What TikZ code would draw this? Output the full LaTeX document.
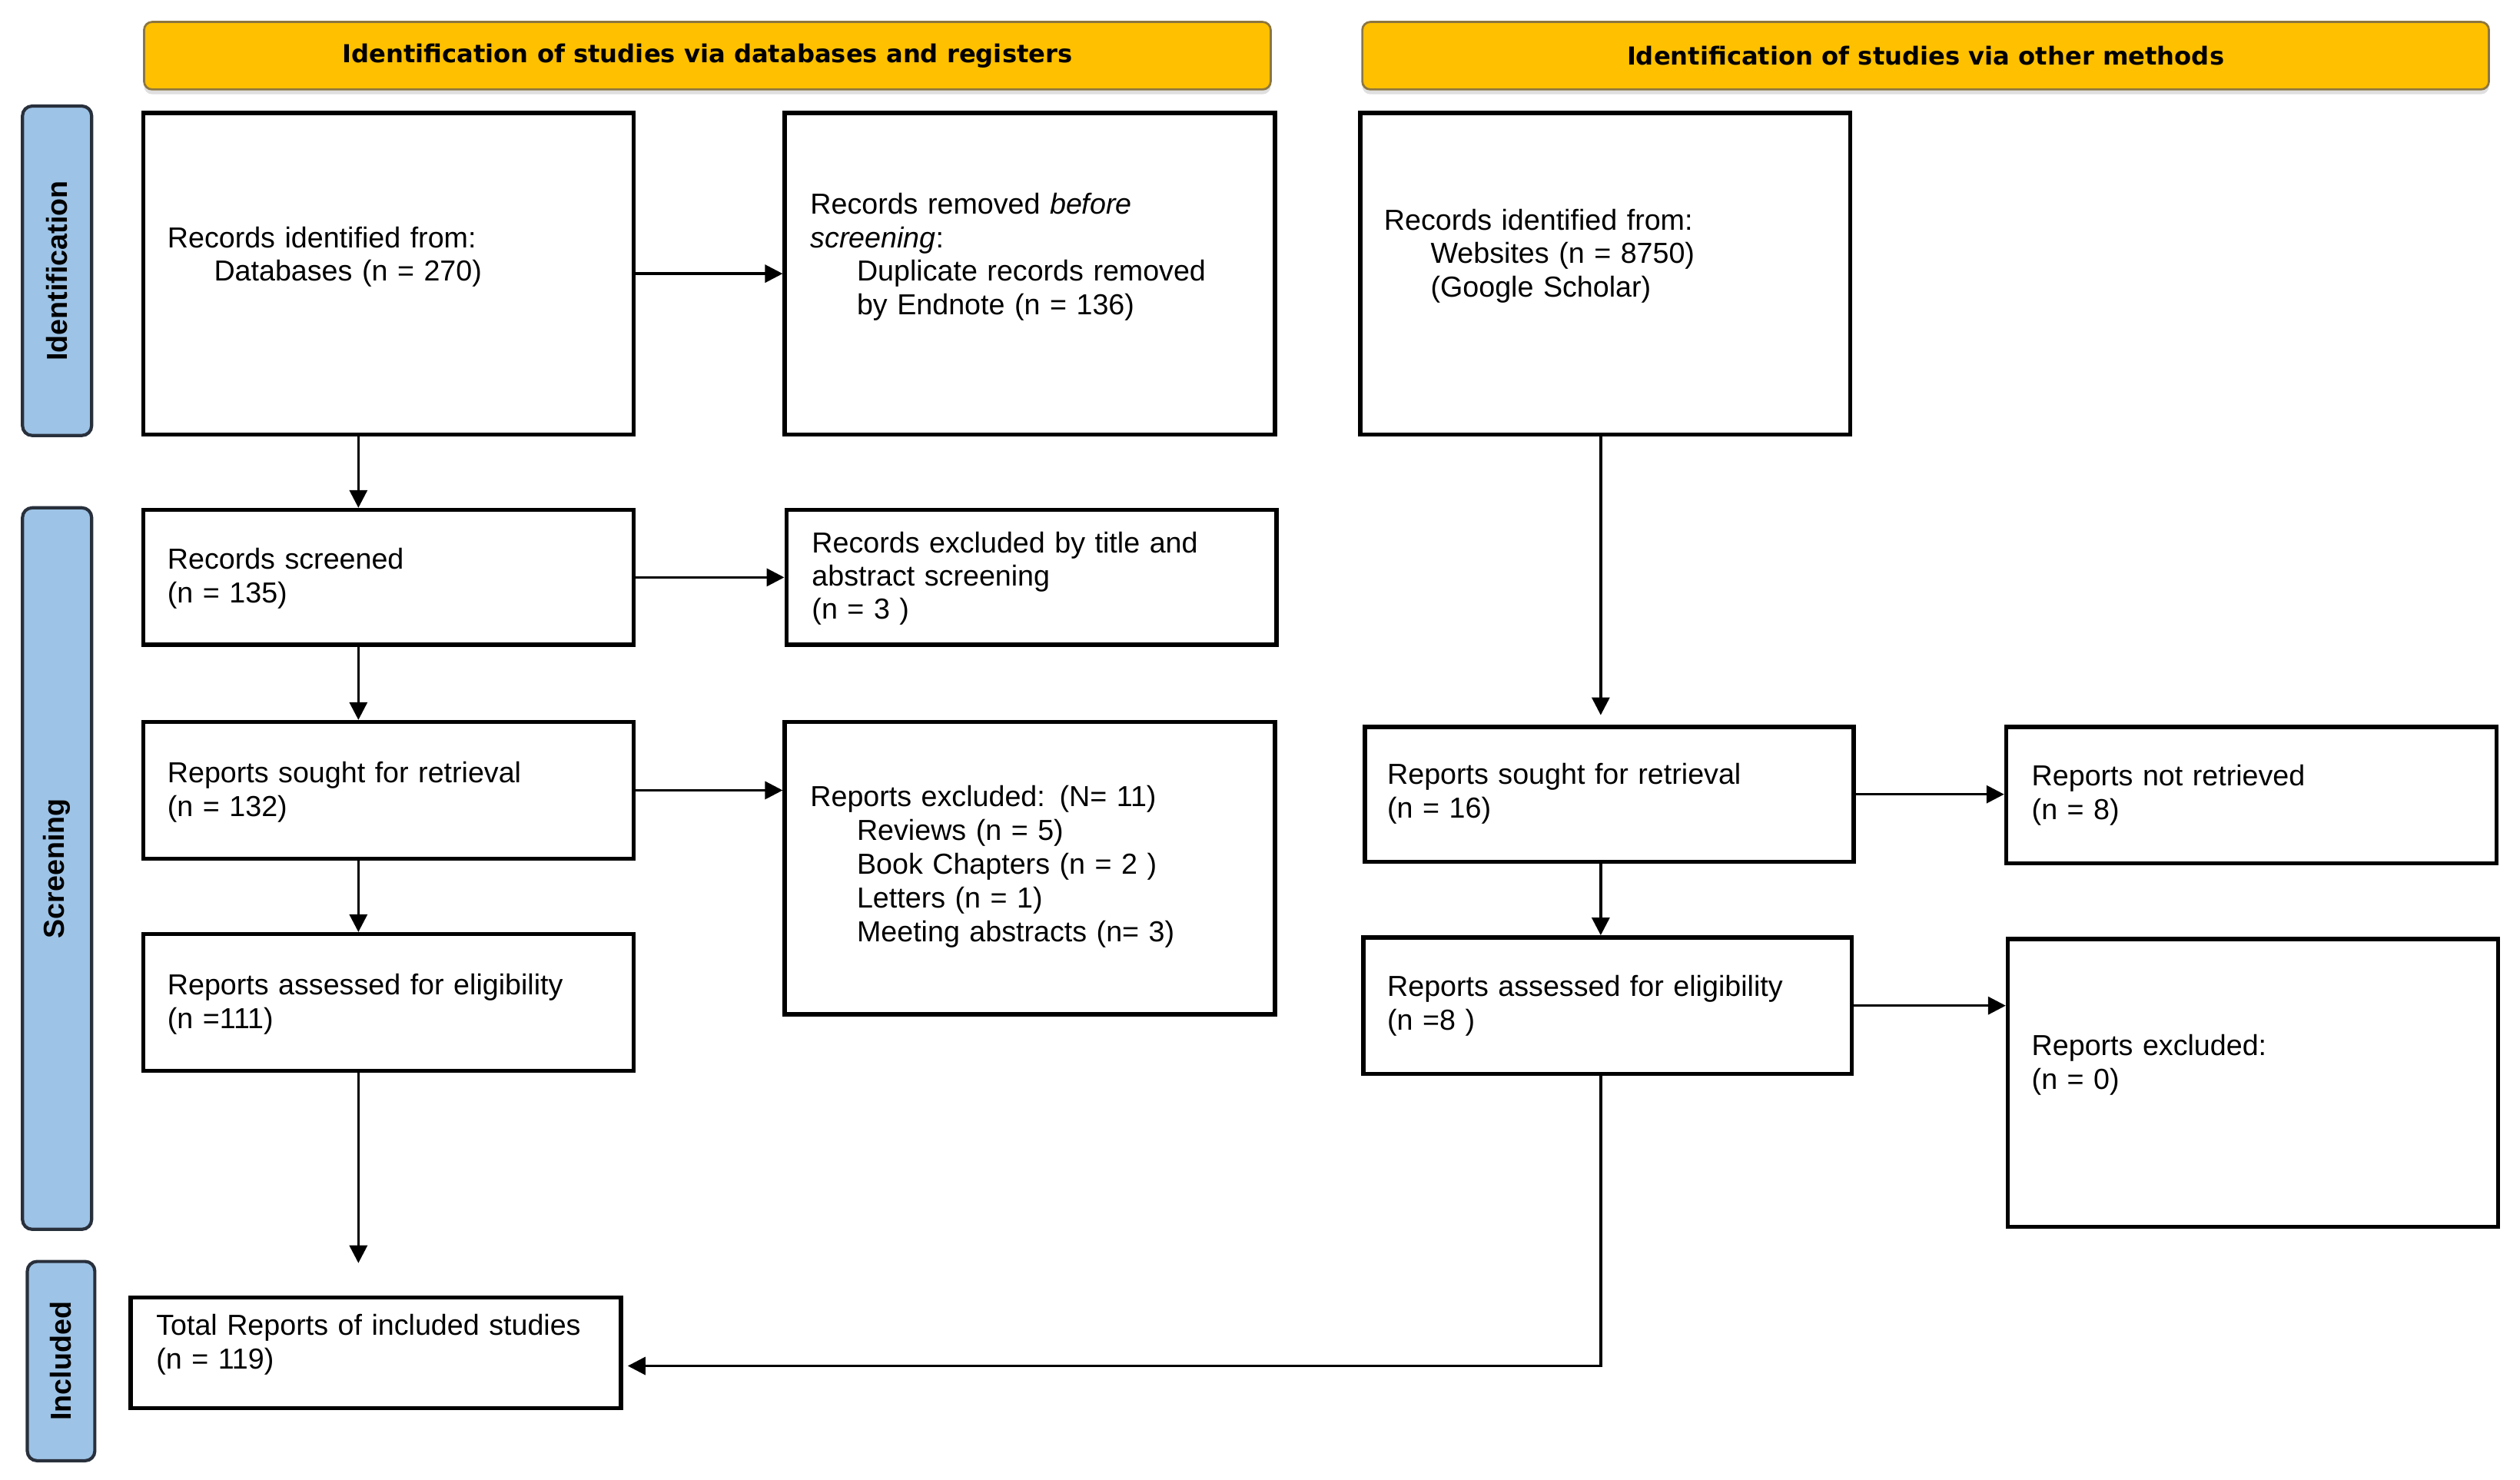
\documentclass[tikz,border=0pt]{standalone}
\usepackage{fontspec}
\setmainfont{Liberation Sans}
\newfontfamily\hdrfont{DejaVu Sans}
\usetikzlibrary{arrows.meta,calc,shadows}
\definecolor{hdrgold}{RGB}{255,192,0}
\definecolor{hdrline}{RGB}{140,118,64}
\definecolor{sideblue}{RGB}{157,195,230}
\definecolor{sideline}{RGB}{40,48,60}
\begin{document}
\begin{tikzpicture}[x=1pt,y=-1pt,
  box/.style={draw=black, line width=2.6pt, fill=white, inner sep=0pt, anchor=north west},
  txt/.style={anchor=base west, inner sep=0pt, align=left, text width=290pt, font=\fontsize{18}{21}\selectfont},
  arr/.style={line width=1.6pt, -{Triangle[length=11pt,width=11pt]}},
  hdr/.style={draw=hdrline, fill=hdrgold, line width=1.3pt, rounded corners=5pt, inner sep=0pt, anchor=north west,
    minimum height=42pt, minimum width=701pt, font=\hdrfont\bfseries\fontsize{15.4}{18}\selectfont,
    drop shadow={shadow xshift=0pt, shadow yshift=-3pt, opacity=0.25}},
  side/.style={draw=sideline, fill=sideblue, line width=2pt, rounded corners=6pt, inner sep=0pt, rotate=90,
    font=\bfseries\fontsize{18}{20}\selectfont}]
\useasboundingbox (0,0) rectangle (1568,921);

% headers
\node[hdr] (h1) at (89,13) {\raisebox{-1pt}{Identification of studies via databases and registers}};
\node[hdr] (h2) at (847,13) {\raisebox{-1pt}{Identification of studies via other methods}};

% side labels
\node[side, minimum width=205pt, minimum height=43pt] (s1) at (35.5,168.5) {Identification};
\node[side, minimum width=449pt, minimum height=43pt] (s2) at (35.5,540.5) {Screening};
\node[side, minimum width=124pt, minimum height=42pt] (s3) at (38,847) {Included};

% boxes
\node[box, minimum width=305pt, minimum height=200pt] (A) at (88,69) {};
\node[box, minimum width=305pt, minimum height=200pt] (B) at (487,69) {};
\node[box, minimum width=305pt, minimum height=200pt] (C) at (845,69) {};
\node[box, minimum width=305pt, minimum height=84pt] (D) at (88,316) {};
\node[box, minimum width=305pt, minimum height=84pt] (E) at (488,316) {};
\node[box, minimum width=305pt, minimum height=85pt] (F) at (88,448) {};
\node[box, minimum width=305pt, minimum height=182pt] (G) at (487,448) {};
\node[box, minimum width=305pt, minimum height=85pt] (H) at (88,580) {};
\node[box, minimum width=305pt, minimum height=69pt] (I) at (80,806) {};
\node[box, minimum width=304pt, minimum height=84pt] (J) at (848,451) {};
\node[box, minimum width=305pt, minimum height=85pt] (K) at (1247,451) {};
\node[box, minimum width=304pt, minimum height=85pt] (L) at (847,582) {};
\node[box, minimum width=305pt, minimum height=179pt] (M) at (1248,583) {};

% texts
\node[txt] (tA) at (104,154) {Records identified from:\\\hspace*{29pt}Databases (n = 270)};
\node[txt] (tB) at (504,133) {Records removed \textit{before}\\\textit{screening}:\\\hspace*{29pt}Duplicate records removed\\\hspace*{29pt}by Endnote (n = 136)};
\node[txt] (tC) at (861,143) {Records identified from:\\\hspace*{29pt}Websites (n = 8750)\\\hspace*{29pt}(Google Scholar)};
\node[txt] (tD) at (104,354) {Records screened\\(n = 135)};
\node[txt] (tE) at (505,344) {Records excluded by title and\\[-0.5pt]abstract screening\\[-0.5pt](n = 3 )};
\node[txt] (tF) at (104,487) {Reports sought for retrieval\\(n = 132)};
\node[txt] (tG) at (504,502) {Reports excluded: (N= 11)\\\hspace*{29pt}Reviews (n = 5)\\\hspace*{29pt}Book Chapters (n = 2 )\\\hspace*{29pt}Letters (n = 1)\\\hspace*{29pt}Meeting abstracts (n= 3)};
\node[txt] (tH) at (104,619) {Reports assessed for eligibility\\(n =111)};
\node[txt] (tI) at (97,831) {Total Reports of included studies\\(n = 119)};
\node[txt] (tJ) at (863,488) {Reports sought for retrieval\\(n = 16)};
\node[txt] (tK) at (1264,489) {Reports not retrieved\\(n = 8)};
\node[txt] (tL) at (863,620) {Reports assessed for eligibility\\(n =8 )};
\node[txt] (tM) at (1264,657) {Reports excluded:\\(n = 0)};

% connector guides
\coordinate (xl) at (223,0);
\coordinate (xr) at (996,0);
\coordinate (yb) at (0,850);

% arrows
\draw[arr] (A.east) -- (B.west);
\draw[arr] (A.south -| xl) -- (D.north -| xl);
\draw[arr] (D.east) -- (E.west);
\draw[arr] (D.south -| xl) -- (F.north -| xl);
\draw[arr] (F.east) -- (F.east -| G.west);
\draw[arr] (F.south -| xl) -- (H.north -| xl);
\draw[arr, shorten >=20pt] (H.south -| xl) -- (I.north -| xl);
\draw[arr, shorten >=6pt] (C.south -| xr) -- (J.north -| xr);
\draw[arr] (J.east) -- (J.east -| K.west);
\draw[arr] (J.south -| xr) -- (L.north -| xr);
\draw[arr] (L.east) -- (L.east -| M.west);
\draw[arr, shorten >=3pt] (L.south -| xr) |- (I.east |- yb);
\end{tikzpicture}
\end{document}
